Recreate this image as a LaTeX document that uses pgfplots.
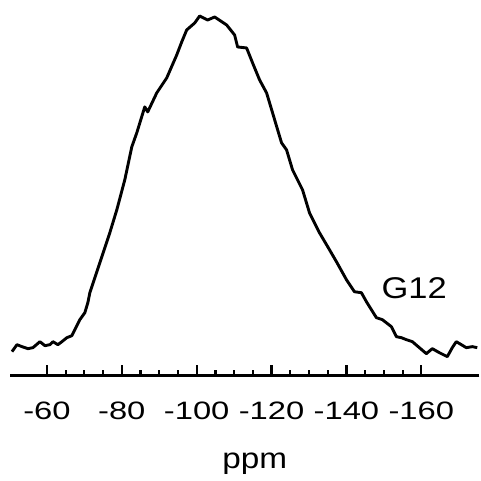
\documentclass[border=0pt]{standalone}
\usepackage{fontspec}
\setmainfont{Liberation Sans}[FakeStretch=1.15]
\newfontfamily\tickfont{Liberation Sans}[FakeStretch=1.3]
\usepackage{pgfplots}
\pgfplotsset{compat=1.18}
\begin{document}
\begin{tikzpicture}
\begin{axis}[
  width=235pt, height=188pt, scale only axis,
  xmin=-175.5, xmax=-50.1, ymin=0, ymax=376,
  x dir=reverse,
  axis x line*=bottom, hide y axis,
  axis line style={line width=1.2pt},
  clip=false,
  xtick={-160,-140,-120,-100,-80,-60},
  xticklabels={-160,-140,-120,-100,-80,-60},
  minor x tick num=3,
  major tick length=5.5pt, minor tick length=3pt,
  every tick/.style={black, line width=1.1pt},
  xticklabel style={font=\tickfont\fontsize{12.6}{15}\selectfont, yshift=-9.5pt},
  tick align=inside,
]
\addplot[black, line width=1.45pt, line join=round] coordinates {
(-50.67,24) (-52.0,31) (-53.33,29) (-54.93,27) (-56.27,28) (-58.13,34)
(-59.47,30) (-60.8,31) (-61.6,34) (-62.93,31) (-64.0,34) (-65.33,38)
(-66.67,40) (-67.47,46) (-68.8,56) (-70.13,63) (-70.93,73) (-71.47,83)
(-74.13,113) (-76.8,143) (-78.67,166) (-80.8,196) (-82.67,229) (-84.0,243)
(-86.13,269) (-86.93,264) (-89.33,283) (-92.0,298) (-94.67,321) (-96.0,334)
(-97.33,346) (-99.47,353) (-100.8,360) (-102.93,356) (-104.8,359) (-108.0,351)
(-110.13,341) (-110.93,329) (-113.33,328) (-114.93,313) (-116.8,296) (-118.67,283)
(-120.27,263) (-122.67,233) (-124.0,226) (-125.6,206) (-128.27,186) (-130.13,163)
(-132.8,143) (-135.47,126) (-137.33,114) (-140.0,96) (-142.13,84) (-144.0,83)
(-145.33,74) (-148.0,58) (-149.6,56) (-152.0,49) (-153.33,39) (-154.67,38)
(-156.0,36) (-157.6,34) (-159.47,28) (-161.33,22) (-162.93,27) (-164.8,23)
(-166.93,19) (-168.27,28) (-169.33,34) (-170.67,31) (-172.0,28) (-173.6,29)
(-174.93,28)
};
\node[font=\fontsize{15}{18}\selectfont] at (axis cs:-158.1,88) {G12};
\node[font=\fontsize{14.5}{17}\selectfont] at (axis cs:-115.5,-88) {ppm};
\path (axis cs:-47.47,-101) rectangle (axis cs:-175.73,376);
\end{axis}
\end{tikzpicture}
\end{document}
